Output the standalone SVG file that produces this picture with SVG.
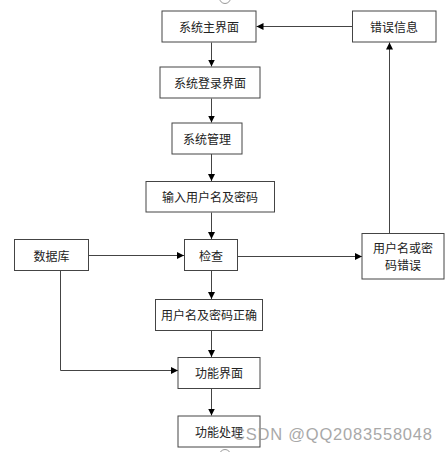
<svg xmlns="http://www.w3.org/2000/svg" width="448" height="452" viewBox="0 0 448 452">
<defs>
<marker id="ah" markerWidth="8" markerHeight="8" refX="7" refY="4" orient="auto" markerUnits="userSpaceOnUse"><path d="M0,0.5 L7,4 L0,7.5 Z" fill="#000"/></marker>
<style>
.box{fill:#fff;stroke:#444;stroke-width:1}
.t{font-family:"Noto Sans CJK SC","Liberation Sans",sans-serif;font-size:12px;fill:#222;text-anchor:middle;dominant-baseline:central}
.c{fill:none;stroke:#444;stroke-width:1;marker-end:url(#ah)}
.w{font-family:"Liberation Sans",Arial,sans-serif;font-size:16.5px;fill:#9a9a9a;opacity:0.85}
</style>
</defs>
<rect width="448" height="452" fill="#fff"/>
<circle cx="225" cy="-2" r="5.5" fill="none" stroke="#999"/>
<circle cx="225" cy="455" r="5.5" fill="none" stroke="#999"/>
<g id="connectors">
<path class="c" d="M352.5,26.5 H256.5"/>
<path class="c" d="M211.5,42.5 V66.5"/>
<path class="c" d="M211.5,98.5 V122.5"/>
<path class="c" d="M211.5,154 V181"/>
<path class="c" d="M211.5,212.5 V239"/>
<path class="c" d="M88.5,255.5 H184"/>
<path class="c" d="M238,256.5 H362"/>
<path class="c" d="M389.5,233.5 V42.5"/>
<path class="c" d="M211.5,270.5 V299"/>
<path class="c" d="M211.5,330.5 V357"/>
<path class="c" d="M60.5,270.5 V370.5 H178"/>
<path class="c" d="M211.5,388.5 V415.5"/>
</g>
<g id="n1"><rect class="box" x="162" y="11" width="94" height="31"/><text class="t" x="209" y="26.5">系统主界面</text></g>
<g id="n2"><rect class="box" x="352.5" y="11" width="83.5" height="31"/><text class="t" x="394" y="26.5">错误信息</text></g>
<g id="n3"><rect class="box" x="160" y="67" width="100" height="31"/><text class="t" x="210" y="82.5">系统登录界面</text></g>
<g id="n4"><rect class="box" x="172" y="123" width="70" height="31"/><text class="t" x="207" y="138.5">系统管理</text></g>
<g id="n5"><rect class="box" x="146" y="181.5" width="128.5" height="30.5"/><text class="t" x="210" y="196.5">输入用户名及密码</text></g>
<g id="n6"><rect class="box" x="14.5" y="239.5" width="74" height="31"/><text class="t" x="51.5" y="255">数据库</text></g>
<g id="n7"><rect class="box" x="184.5" y="239.5" width="53" height="31"/><text class="t" x="211" y="255">检查</text></g>
<g id="n8"><rect class="box" x="362" y="233.5" width="82" height="45.5"/><text class="t" x="403" y="247">用户名或密</text><text class="t" x="403" y="264">码错误</text></g>
<g id="n9"><rect class="box" x="155.5" y="299.5" width="107" height="31"/><text class="t" x="209" y="314.5">用户名及密码正确</text></g>
<g id="n10"><rect class="box" x="178" y="357.5" width="82" height="31"/><text class="t" x="219" y="372.5">功能界面</text></g>
<g id="n11"><rect class="box" x="178" y="416" width="82" height="31"/><text class="t" x="219" y="431">功能处理</text></g>
<text class="w" x="233" y="440" textLength="199">CSDN @QQ2083558048</text>
</svg>
